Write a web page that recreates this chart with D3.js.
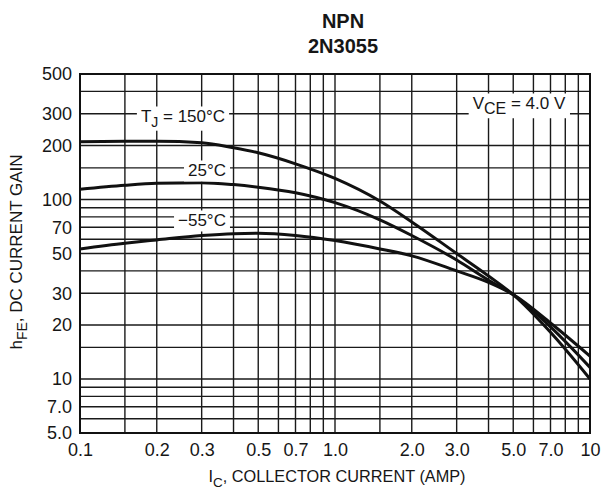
<!DOCTYPE html>
<html>
<head>
<meta charset="utf-8">
<script src="https://cdnjs.cloudflare.com/ajax/libs/d3/7.8.5/d3.min.js"></script>
<style>
body { margin: 0; background: #fff; }
text { font-family: "Liberation Sans", Arial, sans-serif; fill: #161616; }
</style>
</head>
<body>
<svg id="chart" width="601" height="498"></svg>
<script>
// IC in amps, hFE
var current = [0.1, 0.15, 0.2, 0.3, 0.4, 0.5, 0.7, 1, 1.5, 2, 3, 4, 5, 7, 10];
var gain150 = [210, 211, 211, 207, 194, 182, 158, 131, 98, 75, 50, 37.5, 29.5, 18.2, 10];
var gain25  = [114, 120, 123, 124, 121, 117, 109, 96, 77, 63, 46, 35.5, 29.5, 19.5, 11.6];
var gainM55 = [53, 57, 59.5, 63, 64.5, 64.8, 63, 59, 53, 48.5, 40, 34.5, 29.5, 20.5, 13.4];

var xTicks = [0.1, 0.2, 0.3, 0.5, 0.7, 1, 2, 3, 5, 7, 10];
var xTickLabels = ["0.1", "0.2", "0.3", "0.5", "0.7", "1.0", "2.0", "3.0", "5.0", "7.0", "10"];
var yTicks = [5, 7, 10, 20, 30, 50, 70, 100, 200, 300, 500];
var yTickLabels = ["5.0", "7.0", "10", "20", "30", "50", "70", "100", "200", "300", "500"];
var xGrid = [0.15, 0.2, 0.3, 0.4, 0.5, 0.6, 0.7, 0.8, 0.9, 1, 1.5, 2, 3, 4, 5, 6, 7, 8, 9];
var yGrid = [6, 7, 8, 9, 10, 15, 20, 30, 40, 50, 60, 70, 80, 90, 100, 150, 200, 300, 400];

var pLeft = 80, pRight = 590, pTop = 74, pBottom = 433;
var svg = d3.select("#chart");

var x = d3.scaleLog().domain([0.1, 10]).range([pLeft, pRight]);
var y = d3.scaleLog().domain([5, 500]).range([pBottom, pTop]);

// grid
var g = svg.append("g");
g.selectAll("line.v").data(xGrid).enter().append("line")
    .attr("x1", d => x(d)).attr("x2", d => x(d))
    .attr("y1", pTop).attr("y2", pBottom)
    .style("stroke", "#1a1a1a").style("stroke-width", 1.4);
g.selectAll("line.h").data(yGrid).enter().append("line")
    .attr("y1", d => y(d)).attr("y2", d => y(d))
    .attr("x1", pLeft).attr("x2", pRight)
    .style("stroke", "#1a1a1a").style("stroke-width", 1.4);

// curves
var line = d3.line()
    .x(function(d, i) { return x(current[i]); })
    .y(function(d) { return y(d); })
    .curve(d3.curveMonotoneX);

[gain150, gain25, gainM55].forEach(function(s) {
    svg.append("path").attr("d", line(s))
        .style("fill", "none").style("stroke", "#111").style("stroke-width", 3);
});

svg.append("rect").attr("x", pLeft).attr("y", pTop)
    .attr("width", pRight - pLeft).attr("height", pBottom - pTop)
    .style("fill", "none").style("stroke", "#111").style("stroke-width", 2);

// axes labels
var xAxis = d3.axisBottom(x).tickValues(xTicks).tickSize(0)
    .tickFormat(function(d, i) { return xTickLabels[i]; });
var xa = svg.append("g").attr("transform", "translate(0," + (pBottom + 7) + ")").call(xAxis);
xa.select(".domain").remove();

var yAxis = d3.axisLeft(y).tickValues(yTicks).tickSize(0)
    .tickFormat(function(d, i) { return yTickLabels[i]; });
var ya = svg.append("g").attr("transform", "translate(" + (pLeft - 5) + ",0)").call(yAxis);
ya.select(".domain").remove();
svg.selectAll(".tick text").attr("fill", null)
    .style("font-size", "18px").style("font-family", "'Liberation Sans', Arial, sans-serif");

// titles
svg.append("text").attr("x", 343).attr("y", 28).attr("text-anchor", "middle")
    .style("font-size", "20px").style("font-weight", "bold").text("NPN");
svg.append("text").attr("x", 343).attr("y", 53).attr("text-anchor", "middle")
    .style("font-size", "20px").style("font-weight", "bold").text("2N3055");

var xt = svg.append("text").attr("x", 337).attr("y", 482).attr("text-anchor", "middle")
    .style("font-size", "16.3px");
xt.append("tspan").text("I");
xt.append("tspan").attr("dy", 5).style("font-size", "13.5px").text("C");
xt.append("tspan").attr("dy", -5).text(", COLLECTOR CURRENT (AMP)");

var yt = svg.append("text").attr("transform", "translate(22,252) rotate(-90)")
    .attr("text-anchor", "middle").style("font-size", "17px");
yt.append("tspan").text("h");
yt.append("tspan").attr("dy", 5).style("font-size", "14px").text("FE");
yt.append("tspan").attr("dy", -5).text(", DC CURRENT GAIN");

// curve annotations on white patches
function note(cx, cy, parts) {
    var grp = svg.append("g");
    var bg = grp.append("rect").style("fill", "#fff");
    var t = grp.append("text").attr("x", cx).attr("y", cy).attr("text-anchor", "middle")
        .attr("dominant-baseline", "middle").style("font-size", "17px");
    parts.forEach(function(p) {
        var s = t.append("tspan").text(p[0]);
        if (p[1]) s.attr("dy", p[1]);
        if (p[2]) s.style("font-size", p[2]);
    });
    var b = t.node().getBBox();
    bg.attr("x", b.x - 4).attr("y", b.y - 1).attr("width", b.width + 8).attr("height", b.height + 2);
}
note(183, 118, [["T"], ["J", 5, "14px"], [" = 150\u00B0C", -5]]);
note(207, 172, [["25\u00B0C"]]);
note(202, 222, [["\u221255\u00B0C"]]);
note(519, 105, [["V"], ["CE", 5, "16px"], [" = 4.0 V", -5]]);
</script>
</body>
</html>
